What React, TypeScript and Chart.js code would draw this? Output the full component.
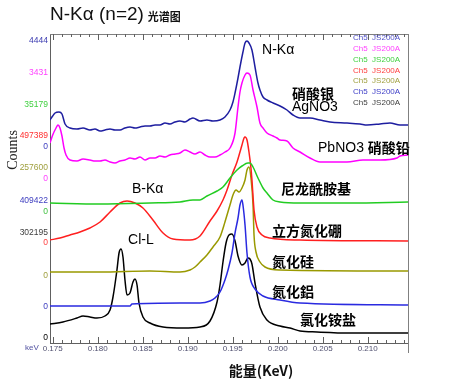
import React, { useEffect, useRef } from "react";
import { Chart, registerables } from "chart.js";
Chart.register(...registerables);

// ---- data (x in keV, y in relative counts, offset per spectrum) ----
const agno3X = [0.1747,0.1750,0.17526,0.1757,0.17603,0.17637,0.17692,0.1777,0.17837,0.17914,0.1797,0.18026,0.18081,0.18137,0.18192,0.18248,0.18303,0.18359,0.18414,0.1847,0.18526,0.18581,0.18637,0.18692,0.18748,0.18803,0.18859,0.18914,0.1897,0.19026,0.19059,0.19137,0.19214,0.19281,0.19359,0.19414,0.1947,0.19503,0.19526,0.19559,0.19581,0.19614,0.19637,0.19659,0.19681,0.19714,0.19748,0.19781,0.19803,0.19837,0.19881,0.19948,0.20026,0.20103,0.2017,0.20248,0.20359,0.2047,0.20581,0.2077,0.20914,0.20992,0.21137,0.21248,0.21359,0.21448];
const agno3Y = [223,227,230,231,229,219,215,214,215,213,214,212,213,214,213,213,215,216,215,216,217,217,218,218,220,219,221,222,221,224,225,222,223,222,223,226,233,241,250,265,276,291,300,302,300,293,276,260,253,246,243,240,237,233,228,225,225,223,221,220,219,218,219,220,218,218];

const pbno3X = [0.1747,0.1750,0.17537,0.17559,0.17581,0.17603,0.17626,0.17648,0.17692,0.1777,0.17837,0.17914,0.1797,0.18026,0.18081,0.18137,0.18192,0.18248,0.18303,0.18359,0.18414,0.1847,0.18526,0.18581,0.18637,0.18692,0.18748,0.18803,0.18859,0.18914,0.1897,0.19026,0.19081,0.19137,0.19192,0.19248,0.19303,0.19359,0.19414,0.1947,0.19526,0.19559,0.19581,0.19603,0.19637,0.19659,0.19692,0.19726,0.1977,0.19803,0.19837,0.19881,0.19948,0.19992,0.20026,0.20103,0.2017,0.20248,0.20359,0.2047,0.20614,0.2077,0.20948,0.21137,0.21326,0.21359,0.21448];
const pbno3Y = [200,208,215,218,215,207,195,188,183,182,184,183,182,182,183,181,180,182,183,185,184,186,183,185,185,187,186,188,189,190,193,191,189,191,188,186,186,188,191,195,210,236,251,260,268,270,268,253,236,220,215,210,207,205,203,202,195,191,185,181,181,181,183,183,185,187,188];

const nylonX = [0.1747,0.18026,0.18581,0.18914,0.19059,0.19137,0.19214,0.19326,0.19392,0.1947,0.19548,0.19603,0.1967,0.19692,0.19726,0.19781,0.19837,0.19881,0.19948,0.20026,0.20248,0.20803,0.21448];
const nylonY = [140,139,140,141,143,143,147,152,156,165,173,177,180,180,176,165,155,150,143,141,140,140,141];

const bnX = [0.1747,0.17581,0.17692,0.17803,0.17914,0.18026,0.18137,0.18248,0.18326,0.18414,0.18503,0.18614,0.18726,0.18837,0.19026,0.19137,0.19248,0.19326,0.19392,0.19437,0.19492,0.19548,0.19581,0.19603,0.19626,0.19637,0.19659,0.19681,0.19703,0.19714,0.19737,0.1977,0.19826,0.19914,0.20248,0.21448];
const bnY = [103,105,108,111,115,121,131,140,142,140,135,123,110,104,103,107,122,132,143,153,168,181,191,198,205,206,203,191,175,163,133,116,108,105,103,102];

const si3n4X = [0.1747,0.18026,0.18581,0.18914,0.19026,0.19081,0.19137,0.19214,0.19281,0.19359,0.19414,0.1947,0.19503,0.19537,0.1957,0.19603,0.19637,0.19659,0.19681,0.19703,0.19726,0.19737,0.19759,0.19803,0.19859,0.20026,0.21448];
const si3n4Y = [71,71,72,71,73,76,81,88,96,106,121,138,148,153,151,155,163,173,176,165,138,108,91,81,76,73,72];

const alnX = [0.1747,0.18359,0.18381,0.18914,0.19137,0.19248,0.19303,0.19359,0.19414,0.19448,0.19492,0.19526,0.19559,0.19581,0.19603,0.19614,0.19637,0.19659,0.19692,0.19748,0.19837,0.20026,0.20248,0.21448];
const alnY = [37,37,39,40,40,42,45,51,63,73,90,110,125,138,143,138,118,90,66,54,47,43,40,38];

const nh4clX = [0.1747,0.17614,0.1777,0.17837,0.17914,0.17992,0.18081,0.18137,0.1817,0.18214,0.18237,0.18259,0.18281,0.18303,0.18326,0.18359,0.18392,0.18414,0.18437,0.18459,0.18503,0.18581,0.18726,0.18948,0.19137,0.19248,0.19326,0.19359,0.19392,0.19426,0.19459,0.19492,0.19526,0.19559,0.19603,0.19637,0.1967,0.19692,0.19714,0.19748,0.19803,0.19881,0.20026,0.20137,0.20248,0.20437,0.20803,0.21448];
const nh4clY = [19,21,25,27,26,25,27,33,46,73,90,94,86,63,48,50,61,64,58,40,26,20,16,15,16,22,41,58,81,100,108,109,102,87,78,80,85,84,79,60,36,23,17,15,12,11,10,10];

const seriesX = [agno3X, pbno3X, nylonX, bnX, si3n4X, alnX, nh4clX];
const seriesY = [agno3Y, pbno3Y, nylonY, bnY, si3n4Y, alnY, nh4clY];
const seriesNames = ["AgNO3", "PbNO3", "尼龙酰胺基", "立方氮化硼", "氮化硅", "氮化鋁", "氯化铵盐"];
const seriesColors = ["#1e1ea0", "#ff00ff", "#22cc22", "#ff1f1f", "#999900", "#2a2ae0", "#000000"];

// left-hand colored count labels
const yLabelTexts = ["4444", "3431", "35179", "497389", "0", "257600", "0", "409422", "0", "302195", "0", "0", "0", "0"];
const yLabelValues = [302, 270, 238, 207, 196, 175, 164, 142, 131, 110, 100, 67, 36, 5];
const yLabelColors = ["#3a3ab0", "#ff40ff", "#40d040", "#ff3030", "#4040c0", "#a0a040", "#ff40ff", "#4040c0", "#40c040", "#404040", "#ff4040", "#a0a040", "#4040c0", "#000000"];

// legend lines
const legendTexts = ["Ch5  JS200A", "Ch5  JS200A", "Ch5  JS200A", "Ch5  JS200A", "Ch5  JS200A", "Ch5  JS200A", "Ch5  JS200A"];
const legendColors = ["#5050c8", "#ff40ff", "#40d040", "#ff4040", "#a0a040", "#4040c8", "#404040"];

// annotations: text (latin part, cjk part), keV, value
const annoLatin = ["N-Kα", "", "AgNO3", "PbNO3 ", "", "", "", "", "", "B-Kα", "Cl-L"];
const annoCjk = ["", "硝酸银", "", "硝酸铅", "尼龙酰胺基", "立方氮化硼", "氮化硅", "氮化鋁", "氯化铵盐", "", ""];
const annoX = [0.19826, 0.20159, 0.20159, 0.20448, 0.20037, 0.19937, 0.19937, 0.19937, 0.20248, 0.18381, 0.18337];
const annoY = [293, 249, 236, 195, 154, 112, 81, 51, 23, 154, 103];

const X_MIN = 0.1747;
const X_MAX = 0.21448;
const Y_MIN = 0;
const Y_MAX = 309;

const LATIN = "'Liberation Sans', Arial, sans-serif";
const CJK = "'Noto Sans CJK SC', sans-serif";

const isMultiple = (v: number, m: number) => {
  const k = v * 1000;
  const r = Math.round(k);
  return Math.abs(k - r) < 0.01 && r % m === 0;
};

const overlayPlugin = {
  id: "overlay",
  afterDraw(chart: any) {
    const ctx = chart.ctx as CanvasRenderingContext2D;
    const xs = chart.scales.x;
    const ys = chart.scales.y;
    const { left, right, top, bottom } = chart.chartArea;
    ctx.save();

    // frame (top, right)
    ctx.strokeStyle = "#808080";
    ctx.lineWidth = 1;
    ctx.beginPath();
    ctx.moveTo(left, Math.round(top) + 0.5);
    ctx.lineTo(right, Math.round(top) + 0.5);
    ctx.moveTo(Math.round(right) + 0.5, top);
    ctx.lineTo(Math.round(right) + 0.5, bottom + 10);
    ctx.stroke();

    // inward tick marks on bottom and top
    ctx.strokeStyle = "#606060";
    ctx.beginPath();
    xs.ticks.forEach((t: any, i: number) => {
      if (!isMultiple(t.value, 1)) return;
      const px = Math.round(xs.getPixelForTick(i)) + 0.5;
      const major = isMultiple(t.value, 5);
      const len = major ? 6 : 3;
      ctx.moveTo(px, bottom);
      ctx.lineTo(px, bottom - len);
      ctx.moveTo(px, top);
      ctx.lineTo(px, top + len);
    });
    ctx.stroke();

    // colored labels on the left
    ctx.textAlign = "right";
    ctx.textBaseline = "middle";
    ctx.font = `8.5px ${LATIN}`;
    yLabelTexts.forEach((t, i) => {
      ctx.fillStyle = yLabelColors[i];
      ctx.fillText(t, left - 2, ys.getPixelForValue(yLabelValues[i]));
    });

    // "keV" label
    ctx.textAlign = "left";
    ctx.fillStyle = "#5050a0";
    ctx.font = `8px ${LATIN}`;
    ctx.fillText("keV", 25, bottom + 5);

    // Counts
    ctx.save();
    ctx.translate(13, 150);
    ctx.rotate(-Math.PI / 2);
    ctx.textAlign = "center";
    ctx.fillStyle = "#222";
    ctx.font = "14px 'Liberation Serif', serif";
    ctx.fillText("Counts", 0, 0);
    ctx.restore();

    // legend
    ctx.textAlign = "left";
    ctx.font = `8px ${LATIN}`;
    legendTexts.forEach((t, i) => {
      ctx.fillStyle = legendColors[i];
      ctx.fillText(t, 353, 38 + i * 10.8);
    });

    // annotations
    ctx.fillStyle = "#000";
    annoLatin.forEach((t, i) => {
      let px = xs.getPixelForValue(annoX[i]);
      const py = ys.getPixelForValue(annoY[i]);
      if (t) {
        ctx.font = `14px ${LATIN}`;
        ctx.fillText(t, px, py);
        px += ctx.measureText(t).width;
      }
      if (annoCjk[i]) {
        ctx.font = `bold 14px ${CJK}`;
        ctx.fillText(annoCjk[i], px, py);
      }
    });

    // title
    ctx.font = `19px ${LATIN}`;
    ctx.fillStyle = "#111";
    ctx.fillText("N-Kα (n=2)", 50, 15);
    const w = ctx.measureText("N-Kα (n=2)").width;
    ctx.font = `bold 11px ${CJK}`;
    ctx.fillText("光谱图", 50 + w + 4, 17);

    // x axis title
    ctx.textAlign = "center";
    ctx.font = `bold 14px ${CJK}`;
    ctx.fillText("能量(KeV)", 261, 371);

    ctx.restore();
  },
};

export default function App() {
  const ref = useRef<HTMLCanvasElement | null>(null);
  useEffect(() => {
    if (!ref.current) return;
    const datasets = seriesX.map((xs, s) => ({
      label: seriesNames[s],
      data: xs.map((x, i) => ({ x, y: seriesY[s][i] })),
      borderColor: seriesColors[s],
      backgroundColor: seriesColors[s],
      borderWidth: 1.5,
      pointRadius: 0,
      cubicInterpolationMode: "monotone" as const,
      fill: false,
    }));
    const chart = new Chart(ref.current, {
      type: "line",
      data: { datasets },
      options: {
        responsive: false,
        animation: false,
        layout: { padding: { top: 34, right: 42, left: 0, bottom: 0 } },
        plugins: { legend: { display: false }, tooltip: { enabled: false } },
        scales: {
          x: {
            type: "linear",
            min: X_MIN,
            max: X_MAX,
            afterFit: (scale: any) => { scale.height = 44; },
            grid: { display: true, drawOnChartArea: false, drawTicks: false },
            border: { display: true, color: "#606060" },
            ticks: {
              stepSize: 0.001,
              includeBounds: false,
              autoSkip: false,
              maxRotation: 0,
              padding: 1,
              color: "#505070",
              font: { size: 8, family: LATIN },
              callback: (v: any) => (isMultiple(Number(v), 5) ? Number(v).toFixed(3) : ""),
            },
          },
          y: {
            min: Y_MIN,
            max: Y_MAX,
            afterFit: (scale: any) => { scale.width = 50; },
            grid: { display: false },
            border: { display: true, color: "#606060" },
            ticks: { display: false },
          },
        },
      },
      plugins: [overlayPlugin],
    });
    return () => chart.destroy();
  }, []);
  return (
    <div style={{ position: "absolute", left: 0, top: 0, width: 450, height: 387, background: "#fff" }}>
      <canvas ref={ref} width={450} height={387} />
    </div>
  );
}
